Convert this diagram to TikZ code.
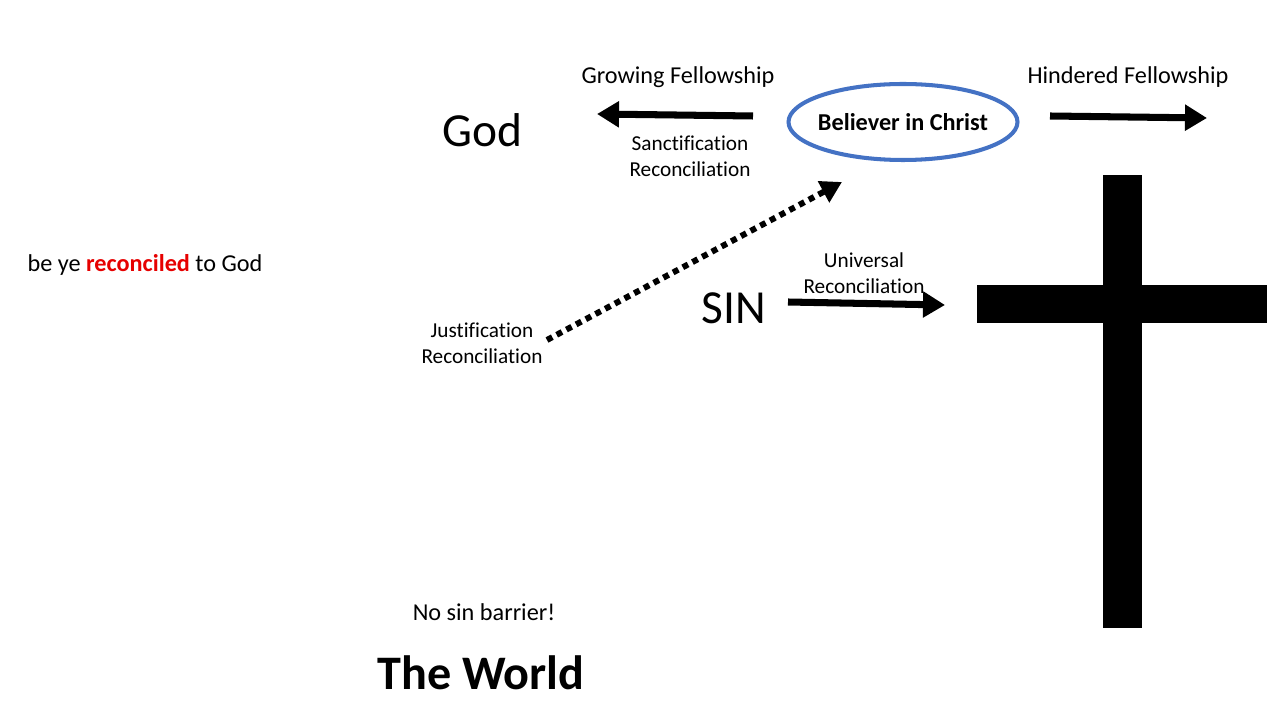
\documentclass[tikz,border=0pt]{standalone}
\usepackage{fontspec}
\setmainfont{Carlito}[Ligatures={TeX,NoCommon}]
\usetikzlibrary{arrows.meta,shapes.geometric}
\definecolor{ellblue}{RGB}{68,114,196}
\definecolor{redword}{RGB}{230,0,0}
\begin{document}
\begin{tikzpicture}
                \useasboundingbox (0,0) rectangle (25.6,14.4);
                \tikzstyle{every node}=[inner sep=0pt, text=black]
                \tikzstyle{big}=[font=\fontsize{27}{32}\selectfont]
                \tikzstyle{label}=[font=\fontsize{13.8}{16}\selectfont]
                \tikzstyle{small}=[align=center, font=\fontsize{12.1}{14.8}\selectfont]
                \tikzstyle{fat}=[line width=4pt, -{Triangle[length=0.44cm, width=0.5cm]}]

                \node[big] (god) at (9.64,11.80) {God};
                \node[big] (sin) at (14.68,8.24) {SIN};
                \node[font=\fontsize{27.4}{32}\selectfont\bfseries] (world) at (9.62,0.94) {The World};
                \node[label] (nosin) at (9.68,2.16) {No sin barrier!};
                \node[label] (beye) at (2.9,9.10) {be ye \textcolor{redword}{\textbf{reconciled}} to God};

                \node[ellipse, draw=ellblue, line width=2.3pt, inner xsep=-0.6cm, minimum width=4.58cm, minimum height=1.52cm, font=\fontsize{13.8}{16}\selectfont\bfseries] (bel) at (18.06,11.96) {Believer in Christ};

                \node[label] (grow) at (13.56,12.86) {Growing Fellowship};
                \node[label] (hind) at (22.56,12.86) {Hindered Fellowship};
                \node[small] (sanct) at (13.80,11.28) {Sanctification\\Reconciliation};
                \node[small] (just) at (9.64,7.54) {Justification\\Reconciliation};
                \node[small] (univ) at (17.28,8.94) {Universal\\Reconciliation};

                \coordinate (gs) at (15.06,12.08);
                \coordinate (ge) at (11.94,12.12);
                \coordinate (hs) at (21.00,12.08);
                \coordinate (he) at (24.14,12.04);
                \coordinate (ss) at (15.76,8.36);
                \coordinate (se) at (18.90,8.30);
                \coordinate (js) at (10.94,7.60);
                \coordinate (je) at (16.84,10.76);

                \draw[fat] (gs) -- (ge);
                \draw[fat] (hs) -- (he);
                \draw[fat] (ss) -- (se);
                \draw[line width=3.4pt, dash pattern=on 0.12cm off 0.1cm, -{Triangle[length=0.42cm, width=0.46cm]}] (js) -- (je);

                \fill[black] (22.06,1.84) rectangle (22.84,10.90);
                \fill[black] (19.54,7.94) rectangle (25.34,8.70);
            \end{tikzpicture}
\end{document}
